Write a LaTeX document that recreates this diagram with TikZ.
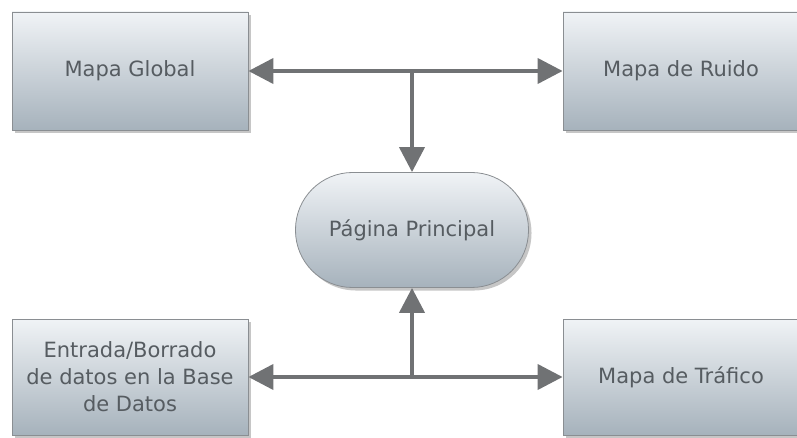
\documentclass[tikz,border=0pt]{standalone}
\usepackage{fontspec}
\setmainfont{DejaVu Sans}
\usepackage{xcolor}
\usetikzlibrary{arrows.meta,positioning,shadows}
\definecolor{cajaarriba}{HTML}{F0F3F6}
\definecolor{cajaabajo}{HTML}{A6B2BC}
\definecolor{borde}{HTML}{8A8E92}
\definecolor{texto}{HTML}{565C61}
\definecolor{linea}{HTML}{707274}
\tikzset{
    %Define style for boxes
    caja/.style={
           rectangle,
           draw=borde, thick,
           top color=cajaarriba, bottom color=cajaabajo,
           drop shadow={shadow xshift=3pt, shadow yshift=-3pt, opacity=.45},
           minimum width=236pt,
           minimum height=118pt,
           inner sep=2pt,
           text=texto,
           font=\fontsize{21}{27}\selectfont,
           align=center},
    % Define style for the oval
    ovalo/.style={
           caja,
           rounded corners=57pt,
           minimum width=233pt,
           minimum height=115pt},
    % Define arrow style
    flecha/.style={
           draw=linea, fill=linea,
           line width=4pt,
           arrows={-Triangle[length=25pt,width=25pt]}}
}
\begin{document}
\begin{tikzpicture}[x=1pt, y=-1pt]
    \useasboundingbox (0,0) rectangle (797,438);
    \node[caja] (global) at (130,71) {Mapa Global};
    \node[caja] (ruido) at (681,71) {Mapa de Ruido};
    \node[ovalo] (principal) at (412,230) {Página Principal};
    \node[caja, minimum height=116pt] (datos) at (130,377)
        {Entrada/Borrado\\de datos en la Base\\de Datos};
    \node[caja, minimum height=116pt] (trafico) at (681,377) {Mapa de Tráfico};
    \coordinate (arriba) at (principal.north |- global.east);
    \coordinate (abajo) at (principal.south |- datos.east);
    \draw[flecha] (arriba) -- (global);
    \draw[flecha] (arriba) -- (ruido);
    \draw[flecha] (arriba) -- (principal);
    \draw[flecha] (abajo) -- (datos);
    \draw[flecha] (abajo) -- (trafico);
    \draw[flecha] (abajo) -- (principal);
\end{tikzpicture}
\end{document}
